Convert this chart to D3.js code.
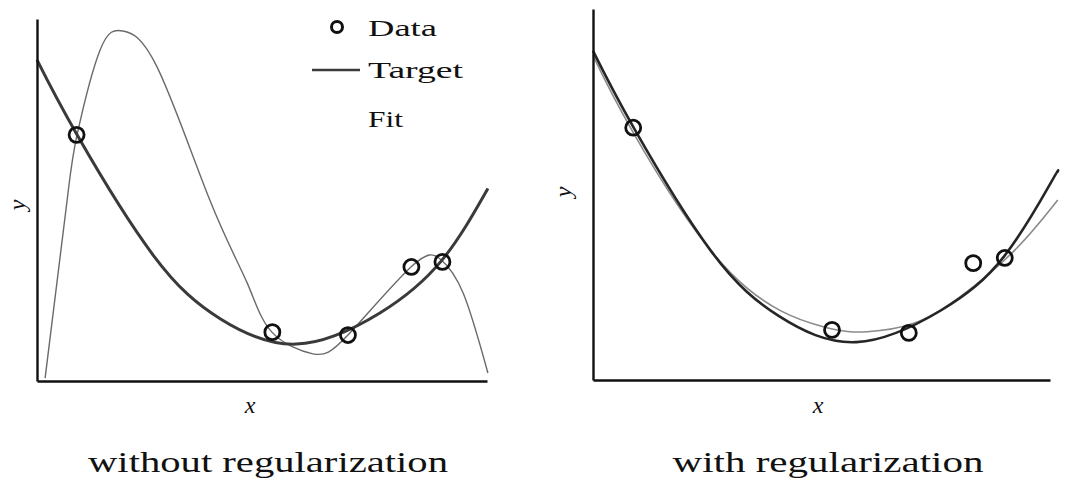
<!DOCTYPE html>
<html>
<head>
<meta charset="utf-8">
<script src="https://cdn.jsdelivr.net/npm/d3@7"></script>
<style>
  html, body { margin: 0; padding: 0; background: #fff; }
  svg { display: block; }
  text { font-family: "Liberation Serif", "DejaVu Serif", serif; fill: #111; }
</style>
</head>
<body>
<svg id="chart" width="1069" height="480"></svg>
<script>
// ---- data (normalized x in [0,1], y in [0,1]) ----
const dataX = [0.088, 0.523, 0.691, 0.832, 0.901];
const dataY = [0.680, 0.135, 0.127, 0.315, 0.329];

// true target curve
const targetX = [0.000, 0.089, 0.258, 0.407, 0.576, 0.762, 0.900, 1.002, 1.016];
const targetY = [0.887, 0.680, 0.348, 0.172, 0.102, 0.188, 0.334, 0.532, 0.560];

// high-order fit without regularization
const fitNoRegX = [0.018, 0.067, 0.089, 0.140, 0.191, 0.267, 0.384, 0.467, 0.522, 0.613, 0.691, 0.831, 0.896, 0.947, 1.002];
const fitNoRegY = [0.008, 0.500, 0.680, 0.914, 0.967, 0.867, 0.500, 0.271, 0.135, 0.075, 0.127, 0.315, 0.337, 0.243, 0.022];

// fit with regularization
const fitRegX = [0.000, 0.089, 0.300, 0.500, 0.600, 0.700, 0.803, 0.923, 1.017];
const fitRegY = [0.875, 0.665, 0.290, 0.145, 0.130, 0.152, 0.224, 0.350, 0.485];

const legendLabels = ["Data", "Target", "Fit"];
const panelTitles = ["without regularization", "with regularization"];
const axisLabelX = "x";
const axisLabelY = "y";

// ---- layout ----
const svg = d3.select("#chart");

const panels = [
  { x0: 37, x1: 487, yb: 381, yt: 19, xEnd: 1.003, fitX: fitNoRegX, fitY: fitNoRegY,
    targetColor: "#3a3a3a", targetW: 3, fitColor: "#6a6a6a", fitW: 1.4,
    title: panelTitles[0], titleX: 268, titleW: 360, xLab: 250, yLab: [18, 205] },
  { x0: 593, x1: 1050, yb: 380, yt: 9, xEnd: 1.02, fitX: fitRegX, fitY: fitRegY,
    targetColor: "#262626", targetW: 2.6, fitColor: "#8a8a8a", fitW: 1.6,
    title: panelTitles[1], titleX: 828, titleW: 311, xLab: 818, yLab: [564, 192] }
];

panels.forEach(p => {
  const x = d3.scaleLinear().domain([0, 1]).range([p.x0, p.x1]);
  const y = d3.scaleLinear().domain([0, 1]).range([p.yb, p.yt]);
  const g = svg.append("g");

  const line = d3.line().x(d => x(d[0])).y(d => y(d[1])).curve(d3.curveNatural);

  const tgt = targetX.map((v, i) => [v, targetY[i]]).filter(d => d[0] <= p.xEnd);
  const fit = p.fitX.map((v, i) => [v, p.fitY[i]]);

  g.append("path").datum(fit).attr("d", line)
    .attr("fill", "none").attr("stroke", p.fitColor).attr("stroke-width", p.fitW);
  g.append("path").datum(tgt).attr("d", line)
    .attr("fill", "none").attr("stroke", p.targetColor).attr("stroke-width", p.targetW);

  // axes (spines only, no ticks)
  const xAxis = d3.axisBottom(x).tickValues([]).tickSizeOuter(0);
  const yAxis = d3.axisLeft(y).tickValues([]).tickSizeOuter(0);
  const gx = g.append("g").attr("transform", `translate(0,${p.yb})`).call(xAxis);
  const gy = g.append("g").attr("transform", `translate(${p.x0},0)`).call(yAxis);
  [gx, gy].forEach(a => a.select(".domain").attr("stroke", "#111").attr("stroke-width", 2.4));

  // data points
  g.selectAll("circle.pt").data(dataX.map((v, i) => [v, dataY[i]])).join("circle")
    .attr("class", "pt")
    .attr("cx", d => x(d[0])).attr("cy", d => y(d[1])).attr("r", 7.5)
    .attr("fill", "none").attr("stroke", "#111").attr("stroke-width", 2.8);

  // axis labels
  g.append("text").attr("x", p.xLab).attr("y", 413).attr("text-anchor", "middle")
    .attr("font-style", "italic").attr("font-size", 24).text(axisLabelX);
  g.append("text").attr("transform", `translate(${p.yLab[0]},${p.yLab[1]}) rotate(-90)`)
    .attr("text-anchor", "middle").attr("font-style", "italic").attr("font-size", 24)
    .attr("dy", "0.3em").text(axisLabelY);

  // panel title
  g.append("text").attr("x", p.titleX - p.titleW / 2).attr("y", 472)
    .attr("font-size", 30).attr("textLength", p.titleW).attr("lengthAdjust", "spacingAndGlyphs")
    .text(p.title);
});

// ---- legend (left panel) ----
const leg = svg.append("g");
leg.append("circle").attr("cx", 337).attr("cy", 27).attr("r", 5.5)
  .attr("fill", "none").attr("stroke", "#111").attr("stroke-width", 3);
leg.append("line").attr("x1", 312).attr("x2", 360).attr("y1", 70).attr("y2", 70)
  .attr("stroke", "#3a3a3a").attr("stroke-width", 2.6);
const legW = [69, 95, 35];
const legY = [36, 78, 127];
legendLabels.forEach((t, i) => {
  leg.append("text").attr("x", 368).attr("y", legY[i]).attr("font-size", 24)
    .attr("textLength", legW[i]).attr("lengthAdjust", "spacingAndGlyphs").text(t);
});
</script>
</body>
</html>
